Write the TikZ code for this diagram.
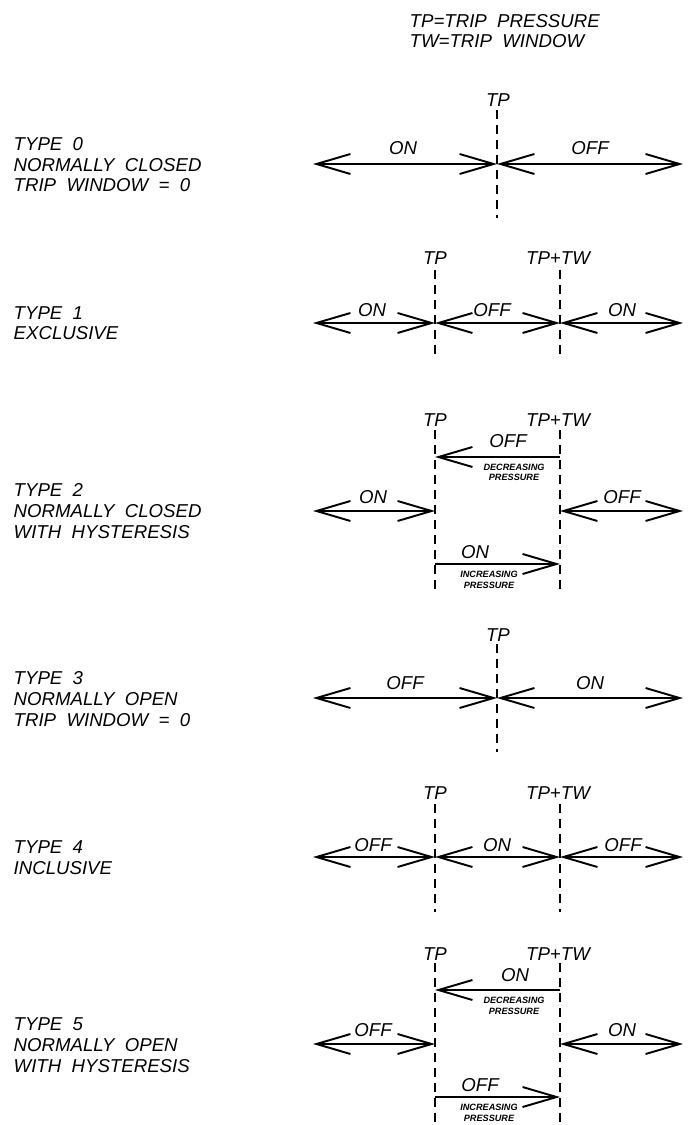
\documentclass[tikz,border=0pt]{standalone}
\usepackage{fontspec}
\setmainfont[WordSpace=2]{Liberation Sans}
\usepackage{tikz}
\usetikzlibrary{arrows.meta}
\usetikzlibrary{positioning}

\tikzset{
  lbl/.style={font=\fontsize{5.3}{5.85}\selectfont\itshape, inner sep=0pt, align=left},
  tinylbl/.style={font=\fontsize{2.6}{2.85}\selectfont\bfseries\itshape, inner sep=0pt, align=center},
  trip/.style={draw, line width=0.55pt, dash pattern=on 0.9mm off 0.6mm},
  zone/.style={draw, line width=0.55pt, <->},
  half/.style={draw, line width=0.55pt, ->},
  >={Straight Barb[length=3.4mm,width=2mm]}
}

\begin{document}
\begin{tikzpicture}[x=0.01cm, y=-0.01cm]

        \useasboundingbox (0,0) rectangle (691,1125);

        % multi-line nodes sit on the baseline of their last line
        \node[lbl, anchor=base west] (legend) at (409,48) {TP=TRIP PRESSURE\\TW=TRIP WINDOW};

        % Type 0
        \node[lbl, anchor=base west] (type0) at (13,192) {TYPE 0\\NORMALLY CLOSED\\TRIP WINDOW = 0};
        \coordinate (a0) at (313,164);
        \coordinate (m0) at (497,164);
        \coordinate (b0) at (683,164);
        \coordinate (d0t) at (497,110);
        \coordinate (d0b) at (497,218);
        \path[trip] (d0t) -- (d0b);
        \path[zone] (a0) -- (m0);
        \path[zone] (m0) -- (b0);
        \node[lbl, anchor=base] (tp0) at (498,107) {TP};
        \node[lbl, anchor=base] (on0) at (403,155) {ON};
        \node[lbl, anchor=base] (off0) at (590,155) {OFF};

        % Type 1
        \node[lbl, anchor=base west] (type1) at (13,340) {TYPE 1\\EXCLUSIVE};
        \coordinate (a1) at (313,323);
        \coordinate (m1) at (435,323);
        \coordinate (n1) at (560,323);
        \coordinate (b1) at (683,323);
        \coordinate (d1t) at (435,270);
        \coordinate (d1b) at (435,357);
        \coordinate (e1t) at (560,270);
        \coordinate (e1b) at (560,357);
        \path[trip] (d1t) -- (d1b);
        \path[trip] (e1t) -- (e1b);
        \path[zone] (a1) -- (m1);
        \path[zone] (m1) -- (n1);
        \path[zone] (n1) -- (b1);
        \node[lbl, anchor=base] (tp1) at (435,265) {TP};
        \node[lbl, anchor=base] (tw1) at (558,265) {TP+TW};
        \node[lbl, anchor=base] (on1) at (372,317) {ON};
        \node[lbl, anchor=base] (off1) at (492,317) {OFF};
        \node[lbl, anchor=base] (on1r) at (622,317) {ON};

        % Type 2
        \node[lbl, anchor=base west] (type2) at (13,538) {TYPE 2\\NORMALLY CLOSED\\WITH HYSTERESIS};
        \coordinate (u2l) at (435,457);
        \coordinate (u2r) at (560,457);
        \coordinate (a2) at (313,511);
        \coordinate (m2) at (435,511);
        \coordinate (n2) at (560,511);
        \coordinate (b2) at (683,511);
        \coordinate (l2l) at (435,564);
        \coordinate (l2r) at (560,564);
        \coordinate (d2t) at (435,430);
        \coordinate (d2b) at (435,593);
        \coordinate (e2t) at (560,430);
        \coordinate (e2b) at (560,593);
        \path[trip] (d2t) -- (d2b);
        \path[trip] (e2t) -- (e2b);
        \path[half] (u2r) -- (u2l);
        \path[zone] (a2) -- (m2);
        \path[zone] (n2) -- (b2);
        \path[half] (l2l) -- (l2r);
        \node[lbl, anchor=base] (tp2) at (435,427) {TP};
        \node[lbl, anchor=base] (tw2) at (558,427) {TP+TW};
        \node[lbl, anchor=base] (off2u) at (508,448) {OFF};
        \node[tinylbl, anchor=base] (dec2) at (514,481) {DECREASING\\PRESSURE};
        \node[lbl, anchor=base] (on2) at (373,503) {ON};
        \node[lbl, anchor=base] (off2) at (622,503) {OFF};
        \node[lbl, anchor=base] (on2l) at (475,558) {ON};
        \node[tinylbl, anchor=base] (inc2) at (489,588) {INCREASING\\PRESSURE};

        % Type 3
        \node[lbl, anchor=base west] (type3) at (13,726) {TYPE 3\\NORMALLY OPEN\\TRIP WINDOW = 0};
        \coordinate (a3) at (313,698);
        \coordinate (m3) at (497,698);
        \coordinate (b3) at (683,698);
        \coordinate (d3t) at (497,644);
        \coordinate (d3b) at (497,752);
        \path[trip] (d3t) -- (d3b);
        \path[zone] (a3) -- (m3);
        \path[zone] (m3) -- (b3);
        \node[lbl, anchor=base] (tp3) at (498,641) {TP};
        \node[lbl, anchor=base] (off3) at (405,689) {OFF};
        \node[lbl, anchor=base] (on3) at (590,689) {ON};

        % Type 4
        \node[lbl, anchor=base west] (type4) at (13,874) {TYPE 4\\INCLUSIVE};
        \coordinate (a4) at (313,857);
        \coordinate (m4) at (435,857);
        \coordinate (n4) at (560,857);
        \coordinate (b4) at (683,857);
        \coordinate (d4t) at (435,804);
        \coordinate (d4b) at (435,912);
        \coordinate (e4t) at (560,804);
        \coordinate (e4b) at (560,912);
        \path[trip] (d4t) -- (d4b);
        \path[trip] (e4t) -- (e4b);
        \path[zone] (a4) -- (m4);
        \path[zone] (m4) -- (n4);
        \path[zone] (n4) -- (b4);
        \node[lbl, anchor=base] (tp4) at (435,799) {TP};
        \node[lbl, anchor=base] (tw4) at (558,799) {TP+TW};
        \node[lbl, anchor=base] (off4) at (373,851) {OFF};
        \node[lbl, anchor=base] (on4) at (497,851) {ON};
        \node[lbl, anchor=base] (off4r) at (623,851) {OFF};

        % Type 5
        \node[lbl, anchor=base west] (type5) at (13,1072) {TYPE 5\\NORMALLY OPEN\\WITH HYSTERESIS};
        \coordinate (u5l) at (435,990);
        \coordinate (u5r) at (560,990);
        \coordinate (a5) at (313,1044);
        \coordinate (m5) at (435,1044);
        \coordinate (n5) at (560,1044);
        \coordinate (b5) at (683,1044);
        \coordinate (l5l) at (435,1097);
        \coordinate (l5r) at (560,1097);
        \coordinate (d5t) at (435,963);
        \coordinate (d5b) at (435,1125);
        \coordinate (e5t) at (560,963);
        \coordinate (e5b) at (560,1125);
        \path[trip] (d5t) -- (d5b);
        \path[trip] (e5t) -- (e5b);
        \path[half] (u5r) -- (u5l);
        \path[zone] (a5) -- (m5);
        \path[zone] (n5) -- (b5);
        \path[half] (l5l) -- (l5r);
        \node[lbl, anchor=base] (tp5) at (435,960) {TP};
        \node[lbl, anchor=base] (tw5) at (558,960) {TP+TW};
        \node[lbl, anchor=base] (on5u) at (515,981) {ON};
        \node[tinylbl, anchor=base] (dec5) at (514,1014) {DECREASING\\PRESSURE};
        \node[lbl, anchor=base] (off5) at (373,1036) {OFF};
        \node[lbl, anchor=base] (on5) at (622,1036) {ON};
        \node[lbl, anchor=base] (off5l) at (480,1091) {OFF};
        \node[tinylbl, anchor=base] (inc5) at (489,1121) {INCREASING\\PRESSURE};

    \end{tikzpicture}
\end{document}
